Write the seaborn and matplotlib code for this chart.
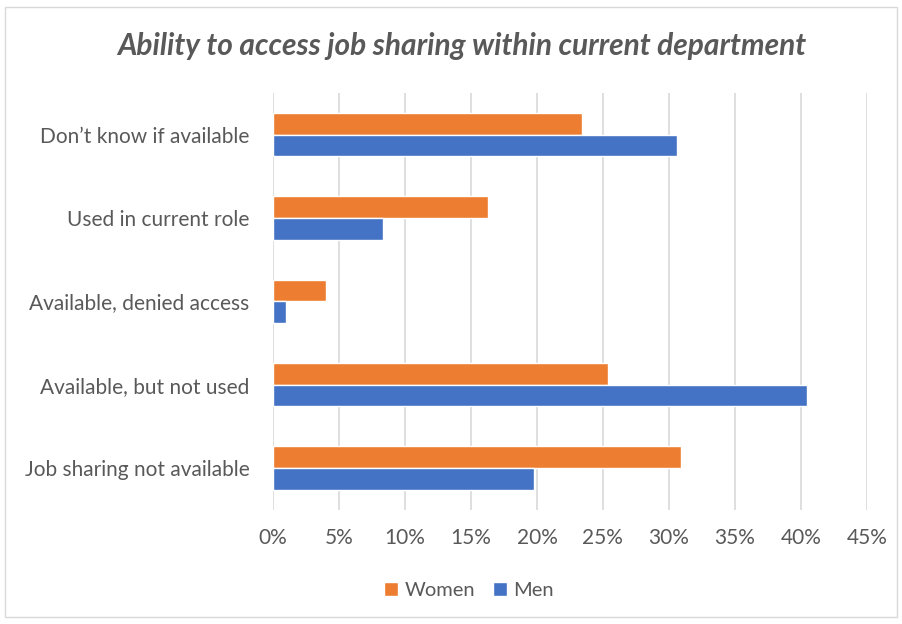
import pandas as pd
import matplotlib.pyplot as plt
import seaborn as sns
from matplotlib.patches import Rectangle
from matplotlib.ticker import FuncFormatter

# -----------------------------
# Data
# -----------------------------
categories = [
    "Don\u2019t know if available",
    "Used in current role",
    "Available, denied access",
    "Available, but not used",
    "Job sharing not available",
]
women = [23.4, 16.3, 4.0, 25.4, 30.9]
men = [30.6, 8.3, 1.0, 40.5, 19.8]
series = ["Women", "Men"]
colors = {"Women": "#ED7D31", "Men": "#4472C4"}

df = pd.DataFrame({
    "Category": categories * 2,
    "Group": ["Women"] * len(categories) + ["Men"] * len(categories),
    "Value": women + men,
})

# -----------------------------
# Style
# -----------------------------
sns.set_theme(style="white")
plt.rcParams["font.family"] = ["Lato", "DejaVu Sans"]
text_grey = "#595959"

fig, ax = plt.subplots(figsize=(9.02, 6.24), dpi=100)
plt.subplots_adjust(left=0.3027, right=0.961, top=0.851, bottom=0.183)

sns.barplot(
    data=df, x="Value", y="Category", hue="Group",
    order=categories, hue_order=series, palette=colors,
    orient="h", width=0.52, gap=0, saturation=1, ax=ax, legend=True,
)

# -----------------------------
# Axes
# -----------------------------
ax.set_xlim(0, 45)
ax.set_xticks(range(0, 46, 5))
ax.xaxis.set_major_formatter(FuncFormatter(lambda v, p: f"{v:.0f}%"))
ax.grid(axis="x", color="#D9D9D9", linewidth=1.2)
ax.set_axisbelow(True)
for s in ax.spines.values():
    s.set_visible(False)
ax.set_xlabel("")
ax.set_ylabel("")
ax.tick_params(axis="both", length=0, labelsize=15, labelcolor=text_grey)
ax.tick_params(axis="y", pad=17)
ax.tick_params(axis="x", pad=13)

ax.set_title(
    "Ability to access job sharing within current department",
    fontsize=21.5, fontweight="bold", fontstyle="italic",
    color=text_grey, pad=27, x=0.318,
)

# -----------------------------
# Legend
# -----------------------------
handles, labels = ax.get_legend_handles_labels()
ax.legend(
    handles, labels, loc="center", bbox_to_anchor=(0.52, 0.053),
    bbox_transform=fig.transFigure, ncol=2, frameon=False,
    fontsize=14.5, labelcolor=text_grey, handlelength=0.7, handleheight=0.7,
    handletextpad=0.3, columnspacing=0.9,
)

# Chart border
fig.patches.append(Rectangle((0.006, 0.012), 0.988, 0.977, transform=fig.transFigure,
                             fill=False, edgecolor="#D9D9D9", linewidth=1))

plt.savefig("out.png", dpi=100)
